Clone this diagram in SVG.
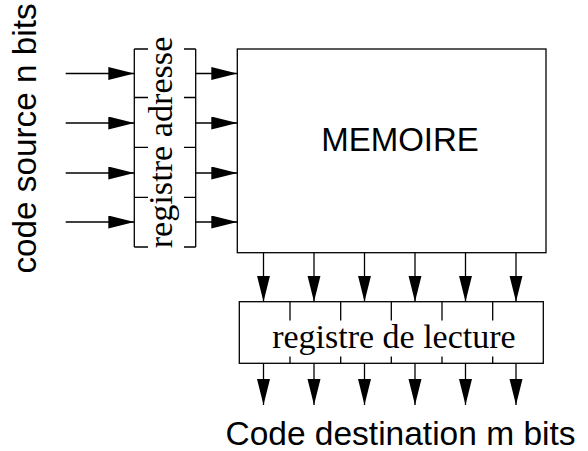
<svg xmlns="http://www.w3.org/2000/svg" width="588" height="451" viewBox="0 0 588 451">
<style>
.ln{stroke:#000;stroke-width:1.3;fill:none}
.sans{font-family:"Liberation Sans",Arial,sans-serif;fill:#000}
.serif{font-family:"Liberation Serif","Times New Roman",serif;fill:#000}
</style>
<defs>
<marker id="ah" markerUnits="userSpaceOnUse" markerWidth="27" markerHeight="14" refX="26" refY="6.5" orient="auto">
<path d="M0,0 L26,6.5 L0,13 z" fill="#000" stroke="none"/>
</marker>
</defs>
<rect width="588" height="451" fill="#fff"/>
<g id="label-source">
<text class="sans" font-size="33.3" text-anchor="middle" transform="translate(36,138.5) rotate(-90)">code source n bits</text>
</g>
<g id="registre-adresse">
<path class="ln" d="M134.3,49 V247 M195.7,49 V247 M134.3,49 H148 M184,49 H195.7 M134.3,97.5 H148 M184,97.5 H195.7 M134.3,147.3 H148 M184,147.3 H195.7 M134.3,197.3 H148 M184,197.3 H195.7 M134.3,247 H148 M184,247 H195.7"/>
<text class="serif" font-size="34.2" text-anchor="middle" transform="translate(172,142.5) rotate(-90)">registre adresse</text>
</g>
<g id="memoire">
<rect class="ln" x="237.3" y="49" width="308.7" height="203.7"/>
<text class="sans" font-size="33" x="400" y="151" text-anchor="middle">MEMOIRE</text>
</g>
<g id="registre-lecture">
<rect class="ln" x="239.3" y="301.7" width="304" height="61.6"/>
<path class="ln" d="M290,301.7 V320.5 M290,356.5 V363.3 M340.7,301.7 V320.5 M340.7,356.5 V363.3 M391.3,301.7 V320.5 M391.3,356.5 V363.3 M442,301.7 V320.5 M442,356.5 V363.3 M492.7,301.7 V320.5 M492.7,356.5 V363.3"/>
<text class="serif" font-size="34" x="393.9" y="348" text-anchor="middle">registre de lecture</text>
</g>
<g id="label-destination">
<text class="sans" font-size="33.5" x="400.5" y="444.5" text-anchor="middle">Code destination m bits</text>
</g>
<g id="connectors" class="ln">
<line x1="65.7" y1="73.5" x2="134.3" y2="73.5" marker-end="url(#ah)"/>
<line x1="65.7" y1="123" x2="134.3" y2="123" marker-end="url(#ah)"/>
<line x1="65.7" y1="173" x2="134.3" y2="173" marker-end="url(#ah)"/>
<line x1="65.7" y1="222" x2="134.3" y2="222" marker-end="url(#ah)"/>
<line x1="195.7" y1="73.5" x2="237.3" y2="73.5" marker-end="url(#ah)"/>
<line x1="195.7" y1="123" x2="237.3" y2="123" marker-end="url(#ah)"/>
<line x1="195.7" y1="173" x2="237.3" y2="173" marker-end="url(#ah)"/>
<line x1="195.7" y1="222" x2="237.3" y2="222" marker-end="url(#ah)"/>
<line x1="263.5" y1="252.7" x2="263.5" y2="301.7" marker-end="url(#ah)"/>
<line x1="314" y1="252.7" x2="314" y2="301.7" marker-end="url(#ah)"/>
<line x1="364.5" y1="252.7" x2="364.5" y2="301.7" marker-end="url(#ah)"/>
<line x1="415" y1="252.7" x2="415" y2="301.7" marker-end="url(#ah)"/>
<line x1="465.5" y1="252.7" x2="465.5" y2="301.7" marker-end="url(#ah)"/>
<line x1="516" y1="252.7" x2="516" y2="301.7" marker-end="url(#ah)"/>
<line x1="263.5" y1="363.3" x2="263.5" y2="405" marker-end="url(#ah)"/>
<line x1="314" y1="363.3" x2="314" y2="405" marker-end="url(#ah)"/>
<line x1="364.5" y1="363.3" x2="364.5" y2="405" marker-end="url(#ah)"/>
<line x1="415" y1="363.3" x2="415" y2="405" marker-end="url(#ah)"/>
<line x1="465.5" y1="363.3" x2="465.5" y2="405" marker-end="url(#ah)"/>
<line x1="516" y1="363.3" x2="516" y2="405" marker-end="url(#ah)"/>
</g>
</svg>
